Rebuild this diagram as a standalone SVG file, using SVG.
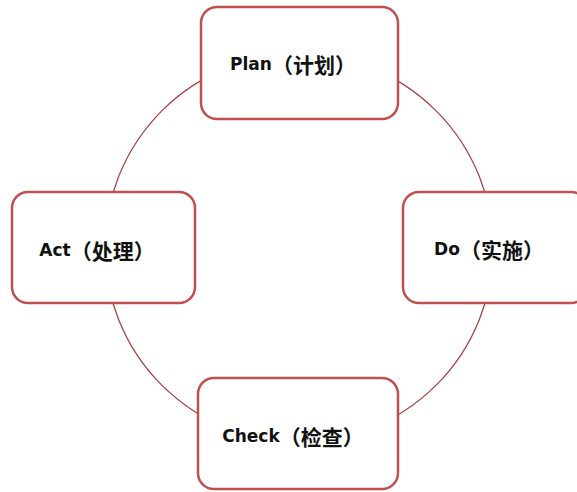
<svg xmlns="http://www.w3.org/2000/svg" width="577" height="492" viewBox="0 0 577 492">
  <style>
    .box { fill: #ffffff; stroke: #c0504d; stroke-width: 2.5; }
    .label { font-family: "DejaVu Sans", "Noto Sans CJK SC", sans-serif; font-weight: bold; font-size: 17px; fill: #111111; text-anchor: middle; dominant-baseline: central; }
    .cjk { font-family: "Noto Sans CJK SC", sans-serif; font-size: 21px; font-weight: bold; }
    .ring { fill: none; stroke: #a83a3a; stroke-width: 1.2; }
  </style>
  <rect width="577" height="492" fill="#ffffff"/>
  <g id="connectors">
    <circle class="ring" cx="299" cy="248" r="194"/>
  </g>
  <g id="plan">
    <rect class="box" x="201" y="7" width="197" height="112" rx="16"/>
    <text class="label" x="293" y="64">Plan<tspan class="cjk">（计划）</tspan></text>
  </g>
  <g id="do">
    <rect class="box" x="403" y="192" width="184" height="111" rx="16"/>
    <text class="label" x="489" y="249">Do<tspan class="cjk">（实施）</tspan></text>
  </g>
  <g id="check">
    <rect class="box" x="198" y="378" width="200" height="111" rx="16"/>
    <text class="label" x="293" y="436">Check<tspan class="cjk">（检查）</tspan></text>
  </g>
  <g id="act">
    <rect class="box" x="12" y="192" width="183" height="111" rx="16"/>
    <text class="label" x="97" y="250">Act<tspan class="cjk">（处理）</tspan></text>
  </g>
</svg>
